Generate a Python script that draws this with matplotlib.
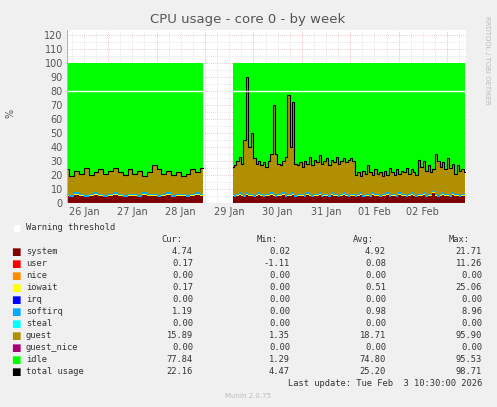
import numpy as np
import matplotlib.pyplot as plt

# ---- DATA ----
days = ["26 Jan", "27 Jan", "28 Jan", "29 Jan", "30 Jan", "31 Jan", "01 Feb", "02 Feb"]

seg1_start, seg1_step = 0.15, 0.1
seg1_total = [24, 19, 23, 21, 25, 20, 22, 24, 21, 23, 25, 22, 20, 24, 21, 23, 19, 22,
              27, 24, 21, 23, 20, 22, 19, 21, 24, 22, 25]
seg1_system = [5, 4, 6, 5, 4, 5, 6, 5, 4, 5, 6, 5, 4, 5, 5, 4, 6, 5,
               5, 4, 5, 6, 4, 5, 5, 4, 5, 6, 5]

seg2_start, seg2_step = 3.57, 0.05
seg2_total = [26, 27, 30, 33, 28, 45, 90, 40, 50, 32, 28, 30, 27, 29, 26, 30, 35, 70,
              35, 28, 27, 30, 33, 77, 40, 72, 28, 27, 29,
              26, 30, 28, 33, 27, 31, 29, 34, 28, 30, 32, 27, 31, 29, 33, 28, 30, 32, 29, 31,
              32, 30, 20, 22, 19, 23, 21, 27, 22, 20, 24, 21, 22, 19, 23, 20, 25, 22, 20, 24,
              21, 23, 22, 25, 21, 24, 22, 20, 31, 26, 30, 23, 27, 22, 24, 35, 30, 26, 29, 24,
              32, 25, 28, 21, 27, 23, 24, 22]
seg2_system = [5, 4, 5, 6, 5, 4, 6, 5, 5, 4, 5, 6, 5, 4, 5, 5, 6, 5,
               4, 5, 5, 6, 4, 5, 5, 6, 4, 5, 5,
               5, 4, 6, 5, 4, 5, 5, 6, 4, 5, 5, 4, 6, 5, 5, 4, 5, 6, 5, 4,
               5, 5, 4, 5, 6, 4, 5, 5, 4, 6, 5, 5, 4, 5, 5, 6, 4, 5, 5, 4,
               6, 5, 5, 4, 5, 6, 5, 4, 5, 5, 6, 4, 5, 5, 7, 5, 4, 5, 6, 5,
               5, 4, 6, 5, 5, 4, 5, 5]
softirq_level = 1.0
iowait_level = 0.5
warning = 80

legend_names = ["system", "user", "nice", "iowait", "irq", "softirq", "steal",
                "guest", "guest_nice", "idle", "total usage"]
legend_colors = ["#7f0000", "#ff0000", "#ff8c00", "#ffff00", "#0000ff", "#00aaff",
                 "#00ffff", "#b09000", "#aa0077", "#00ff00", "#000000"]
cur = ["4.74", "0.17", "0.00", "0.17", "0.00", "1.19", "0.00", "15.89", "0.00", "77.84", "22.16"]
vmin = ["0.02", "-1.11", "0.00", "0.00", "0.00", "0.00", "0.00", "1.35", "0.00", "1.29", "4.47"]
vavg = ["4.92", "0.08", "0.00", "0.51", "0.00", "0.98", "0.00", "18.71", "0.00", "74.80", "25.20"]
vmax = ["21.71", "11.26", "0.00", "25.06", "0.00", "8.96", "0.00", "95.90", "0.00", "95.53", "98.71"]

W, H = 497, 407
fig = plt.figure(figsize=(W / 100, H / 100), dpi=100, facecolor="#f0f0f0")
ax = fig.add_axes([67 / W, 1 - 203 / H, (466 - 67) / W, (203 - 30) / H])
ax.set_facecolor("white")
ax.set_xlim(0.15, 8.39)
ax.set_ylim(0, 123.5)


def draw_segment(start, step, total, system):
    total = np.array(total, float)
    system = np.array(system, float)
    x = start + step * np.arange(len(total))
    soft = np.full_like(total, softirq_level)
    iow = np.full_like(total, iowait_level)
    guest = total - system - soft - iow
    layers = [system, iow, soft, guest, 100 - total]
    cols = ["#7f0000", "#ffff00", "#00aaff", "#b09000", "#00ff00"]
    ax.stackplot(x, *layers, colors=cols, step="mid", linewidth=0, zorder=2)
    ax.step(x, total, where="mid", color="black", lw=0.8, zorder=3)
    ax.hlines(warning, x[0] - step / 2, x[-1] + step / 2, color="white", lw=1, zorder=4)


draw_segment(seg1_start, seg1_step, seg1_total, seg1_system)
draw_segment(seg2_start, seg2_step, seg2_total, seg2_system)

# grid
for y in np.arange(0, 125, 5):
    ax.axhline(y, color="#d8a0a0" if y % 10 == 0 else "#cccccc", lw=0.5, ls=(0, (1, 2)), zorder=1)
for d in np.arange(0.25, 8.4, 0.25):
    ax.axvline(d, color="#e08080" if abs(d - round(d)) < 1e-6 else "#cccccc",
               lw=0.5, ls=(0, (1, 2)), zorder=1)

ax.set_yticks(np.arange(0, 121, 10))
ax.set_xticks(np.arange(len(days)) + 0.5)
ax.set_xticklabels(days)
ax.tick_params(labelsize=7, colors="#555555", length=0, pad=3)
for s in ax.spines.values():
    s.set_visible(False)
ax.axhline(0, color="#aaaaff", lw=0.8, zorder=5)
ax.axvline(0.15, color="#aaaaff", lw=0.8, zorder=5)

fig.text(248 / W, 1 - 19 / H, "CPU usage - core 0 - by week", ha="center", va="center",
         fontsize=9.5, color="#555555")
fig.text(10 / W, 1 - 113 / H, "%", rotation=90, ha="center", va="center", fontsize=7, color="#555555")
fig.text(487 / W, 1 - 60 / H, "RRDTOOL / TOBI OETIKER", rotation=270, ha="center", va="center",
         fontsize=5, color="#bbbbbb")

mono = "DejaVu Sans Mono"
fs = 6.3
fig.text(16 / W, 1 - 228 / H, "■", color="white", fontsize=fs, va="center", ha="center")
fig.text(26 / W, 1 - 228 / H, "Warning threshold", family=mono, fontsize=fs, va="center", color="#333333")
for label, xr in [("Cur:", 182), ("Min:", 278), ("Avg:", 374), ("Max:", 470)]:
    fig.text(xr / W, 1 - 240 / H, label, family=mono, fontsize=fs, ha="right", va="center", color="#333333")
for i, name in enumerate(legend_names):
    y = 1 - (252 + 12 * i) / H
    fig.text(16 / W, y, "■", color=legend_colors[i], fontsize=fs + 1, va="center", ha="center")
    fig.text(26 / W, y, name, family=mono, fontsize=fs, va="center", color="#333333")
    for vals, xr in [(cur, 193), (vmin, 290), (vavg, 386), (vmax, 482)]:
        fig.text(xr / W, y, vals[i], family=mono, fontsize=fs, ha="right", va="center", color="#333333")
fig.text(482 / W, 1 - 384 / H, "Last update: Tue Feb  3 10:30:00 2026", family=mono, fontsize=fs,
         ha="right", va="center", color="#333333")
fig.text(248 / W, 1 - 396 / H, "Munin 2.0.75", fontsize=5, ha="center", va="center", color="#bbbbbb")

fig.savefig("out.png", dpi=100, facecolor=fig.get_facecolor())
